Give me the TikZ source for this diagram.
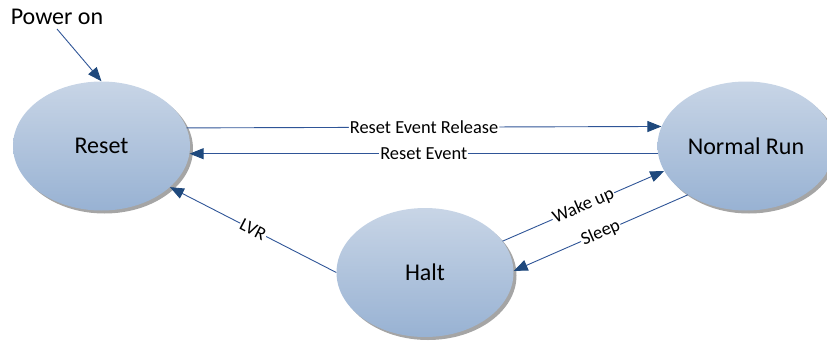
\documentclass[tikz,border=0pt]{standalone}
\usepackage{fontspec}
\setmainfont{Carlito}
\usetikzlibrary{arrows.meta,shapes.geometric,shadows}
\definecolor{linecol}{RGB}{47,85,151}
\definecolor{headcol}{RGB}{31,73,125}
\definecolor{topcol}{RGB}{200,213,230}
\definecolor{botcol}{RGB}{152,178,211}
\definecolor{shadowcol}{RGB}{165,165,165}
\tikzset{
  state/.style={ellipse, minimum width=177pt, minimum height=129pt, inner sep=0pt,
    top color=topcol, bottom color=botcol, draw=none,
    drop shadow={shadow xshift=3pt, shadow yshift=-3pt, fill=shadowcol, opacity=1},
    font=\fontsize{24}{28}\selectfont},
  conn/.style={draw=linecol, line width=0.9pt, -{Triangle[length=14pt,width=11pt,color=headcol]}},
  elabel/.style={midway, sloped, fill=white, inner sep=1pt, font=\fontsize{18.4}{21}\selectfont, text=black}
}
\begin{document}
\begin{tikzpicture}[x=1pt,y=-1pt]
\useasboundingbox (0,0) rectangle (827,343);
\node[state] (reset) at (101.5,146) {Reset};
\node[state] (normal) at (746,146) {Normal Run};
\node[state] (halt) at (425,272.5) {Halt};
\node[font=\fontsize{24}{28}\selectfont, inner sep=4pt] (power) at (57,17) {Power on};
\draw[conn] (power.south) -- (reset.north);
\draw[conn] (reset.12.6) -- node[elabel] {Reset Event Release} (normal.167.4);
\draw[conn] (normal.185.2) -- node[elabel] {Reset Event} (reset.-5.2);
\draw[conn] (halt.22.2) -- node[elabel] {Wake up} (normal.197.8);
\draw[conn] (normal.220.3) -- node[elabel] {Sleep} (halt.1.6);
\draw[conn] (halt.180) -- node[elabel] {LVR} (reset.-31);
\end{tikzpicture}
\end{document}
